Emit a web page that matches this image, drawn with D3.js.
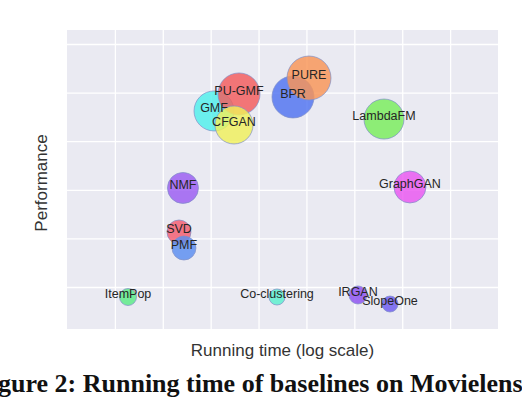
<!DOCTYPE html>
<html>
<head>
<meta charset="utf-8">
<script src="https://cdn.jsdelivr.net/npm/d3@7"></script>
<style>
  body { margin: 0; background: #fff; }
  svg { display: block; }
</style>
</head>
<body>
<svg id="chart" width="522" height="398"></svg>
<script>
// data
const methods = ["GMF", "PU-GMF", "CFGAN", "BPR", "PURE", "LambdaFM", "GraphGAN",
  "NMF", "SVD", "PMF", "ItemPop", "Co-clustering", "IRGAN", "SlopeOne"];
const runTime = [1175, 3908, 3070, 52360, 113000, 4.16e6, 1.45e7,
  264, 218, 277, 18.8, 24270, 1.19e6, 5.56e6];
const performance = [0.2311, 0.2486, 0.2167, 0.2455, 0.2650, 0.2228, 0.1529,
  0.1519, 0.1066, 0.0901, 0.0397, 0.0397, 0.0418, 0.0325];
const bubbleSize = [400, 441, 361, 441, 484, 400, 256,
  240, 144, 144, 72, 64, 81, 64];
const colors = ["#4ff0ec", "#f45b5b", "#f0f05a", "#4f73f0", "#f99555", "#79ee5a", "#ea55f0",
  "#9b5cf2", "#f55c6f", "#5a8ef0", "#5aec85", "#5af0cd", "#8c4ff0", "#6c5af0"];
const xTicks = [1e1, 1e2, 1e3, 1e4, 1e5, 1e6, 1e7, 1e8];
const yTicks = [0.05, 0.10, 0.15, 0.20, 0.25, 0.30];

const data = methods.map((m, i) => ({
  name: m, t: runTime[i], p: performance[i], s: bubbleSize[i], c: colors[i]
}));

const svg = d3.select("#chart");
const plotL = 67, plotR = 498, plotT = 30, plotB = 329;

const x = d3.scaleLog().domain([1, 1e9]).range([plotL, plotR]);
const y = d3.scaleLinear().domain([0.0068, 0.3144]).range([plotB, plotT]);
const r = d3.scaleSqrt().domain([0, 484]).range([0, 22]);

// plot background
svg.append("rect")
  .attr("x", plotL).attr("y", plotT)
  .attr("width", plotR - plotL).attr("height", plotB - plotT)
  .attr("fill", "#eaeaf2");

// grid (no tick labels in the figure)
svg.append("g")
  .attr("transform", `translate(0,${plotB})`)
  .call(d3.axisBottom(x).tickValues(xTicks).tickSize(-(plotB - plotT)).tickFormat(""))
  .call(g => g.select(".domain").remove())
  .call(g => g.selectAll("line").attr("stroke", "#fff").attr("stroke-width", 1.3));

svg.append("g")
  .attr("transform", `translate(${plotL},0)`)
  .call(d3.axisLeft(y).tickValues(yTicks).tickSize(-(plotR - plotL)).tickFormat(""))
  .call(g => g.select(".domain").remove())
  .call(g => g.selectAll("line").attr("stroke", "#fff").attr("stroke-width", 1.3));

// bubbles
svg.append("g")
  .selectAll("circle")
  .data(data)
  .join("circle")
  .attr("cx", d => x(d.t))
  .attr("cy", d => y(d.p))
  .attr("r", d => r(d.s))
  .attr("fill", d => d.c)
  .attr("fill-opacity", 0.82)
  .attr("stroke", "#7f8fc8")
  .attr("stroke-opacity", 0.7)
  .attr("stroke-width", 1);

// labels on top
svg.append("g")
  .selectAll("text")
  .data(data)
  .join("text")
  .attr("x", d => x(d.t))
  .attr("y", d => y(d.p) - 3)
  .attr("text-anchor", "middle")
  .attr("dominant-baseline", "central")
  .attr("font-family", "'Liberation Sans', Arial, sans-serif")
  .attr("font-size", 12.5)
  .attr("fill", "#262626")
  .text(d => d.name);

// axis titles
svg.append("text")
  .attr("x", (plotL + plotR) / 2)
  .attr("y", 356)
  .attr("text-anchor", "middle")
  .attr("font-family", "'Liberation Sans', Arial, sans-serif")
  .attr("font-size", 17)
  .attr("fill", "#333")
  .text("Running time (log scale)");

svg.append("text")
  .attr("transform", "translate(47,183) rotate(-90)")
  .attr("text-anchor", "middle")
  .attr("font-family", "'Liberation Sans', Arial, sans-serif")
  .attr("font-size", 17)
  .attr("fill", "#333")
  .text("Performance");

// caption, cropped at the left edge like the figure
const cap = svg.append("text")
  .attr("y", 392)
  .attr("font-family", "'Liberation Serif', 'Times New Roman', serif")
  .attr("font-weight", "bold")
  .attr("font-size", 26)
  .attr("fill", "#111")
  .text("Figure 2: Running time of baselines on Movielens-1M");
const fiWidth = cap.node().getSubStringLength(0, 2);
cap.attr("x", -fiWidth - 2);
</script>
</body>
</html>
